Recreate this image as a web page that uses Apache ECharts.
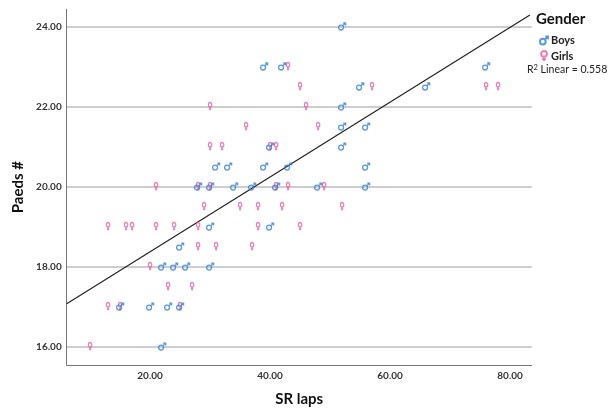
<!DOCTYPE html>
<html>
<head>
<meta charset="utf-8">
<title>Paeds # by SR laps</title>
<script src="https://cdn.jsdelivr.net/npm/echarts@6/dist/echarts.min.js"></script>
<style>
    html, body { margin: 0; padding: 0; background: #fff; }
    #chart { width: 611px; height: 412px; }
</style>
</head>
<body>
<div id="chart"></div>
<script>
    // values
    var boysLaps = [52, 39, 42, 76, 55, 66, 52, 52, 56, 52, 40, 31, 33, 39, 43, 56, 28, 30, 34, 37, 41, 48, 56, 30, 40, 25, 22, 24, 26, 30, 15, 20, 23, 25, 22]
    var boysPaeds = [24, 23, 23, 23, 22.5, 22.5, 22, 21.5, 21.5, 21, 21, 20.5, 20.5, 20.5, 20.5, 20.5, 20, 20, 20, 20, 20, 20, 20, 19, 19, 18.5, 18, 18, 18, 18, 17, 17, 17, 17, 16]
    var girlsLaps = [43, 45, 57, 76, 78, 30, 46, 36, 48, 30, 32, 40, 41, 21, 28, 30, 41, 43, 49, 29, 35, 38, 42, 52, 13, 16, 17, 21, 24, 28, 38, 45, 28, 31, 37, 20, 23, 27, 13, 15, 25, 10]
    var girlsPaeds = [23, 22.5, 22.5, 22.5, 22.5, 22, 22, 21.5, 21.5, 21, 21, 21, 21, 20, 20, 20, 20, 20, 20, 19.5, 19.5, 19.5, 19.5, 19.5, 19, 19, 19, 19, 19, 19, 19, 19, 18.5, 18.5, 18.5, 18, 17.5, 17.5, 17, 17, 17, 16]

    // fit line end points (as drawn in the picture)
    var fitLaps = [6.1, 83.3]
    var fitPaeds = [17.07, 24.29]

    var xTicks = [20, 40, 60, 80]
    var yTicks = [16, 18, 20, 22, 24]

    function zip(a, b) {
        var out = []
        for (var i = 0; i < a.length; i++) out.push([a[i], b[i]])
        return out
    }

    var maleIcon = 'path://M1,7 A3,3 0 1,1 7,7 A3,3 0 1,1 1,7 Z M6.1,4.9 L9.5,1.5 M6.6,1.5 L9.5,1.5 L9.5,4.4'
    var femaleIcon = 'path://M2,4 A3,3 0 1,1 8,4 A3,3 0 1,1 2,4 Z M5,7 L5,11.5 M3,9.5 L7,9.5'

    var blue = '#2f7fd6'
    var pink = '#ea5a9f'
    var font = 'Lato'

    var myChart = echarts.init(document.getElementById('chart'))
    var option = {
        backgroundColor: '#fff',
        animation: false,
        grid: { left: 66.7, right: 79.3, top: 9.3, bottom: 44.3 },
        legend: {
            data: ['Boys', 'Girls'],
            orient: 'vertical',
            left: 534,
            top: 30,
            itemWidth: 8,
            itemHeight: 10,
            itemGap: 4,
            textStyle: { fontFamily: font, fontSize: 11, fontWeight: 'bold', color: '#222', padding: [0, 0, 0, -2] }
        },
        graphic: [
            {
                type: 'text', left: 536, top: 12,
                style: { text: 'Gender', fontFamily: font, fontWeight: 'bold', fontSize: 15, fill: '#111' }
            },
            {
                type: 'text', left: 527, top: 64,
                style: {
                    text: 'R{sup|2} Linear = 0.558',
                    fontFamily: font, fontSize: 10.5, fill: '#222',
                    rich: { sup: { fontSize: 7.5, verticalAlign: 'top', padding: [0, 0, 4, 0], fontFamily: font, fill: '#222' } }
                }
            }
        ],
        xAxis: {
            type: 'value',
            min: 6.1,
            max: 83.6,
            name: 'SR laps',
            nameLocation: 'middle',
            nameGap: 27,
            nameTextStyle: { fontFamily: font, fontWeight: 'bold', fontSize: 15, color: '#111' },
            axisLine: { show: true, lineStyle: { color: '#777', width: 1 } },
            axisTick: { show: false, customValues: xTicks },
            axisLabel: {
                customValues: xTicks, margin: 6,
                fontFamily: font, fontWeight: 'bold', fontSize: 10, color: '#333',
                formatter: function (v) { return v.toFixed(2) }
            },
            splitLine: { show: false }
        },
        yAxis: {
            type: 'value',
            min: 15.54,
            max: 24.43,
            name: 'Paeds #',
            nameLocation: 'middle',
            nameGap: 41,
            nameTextStyle: { fontFamily: font, fontWeight: 'bold', fontSize: 15, color: '#111' },
            axisLine: { show: true, lineStyle: { color: '#777', width: 1 } },
            axisTick: { show: false, customValues: yTicks },
            axisLabel: {
                customValues: yTicks, margin: 5,
                fontFamily: font, fontWeight: 'bold', fontSize: 10, color: '#333',
                formatter: function (v) { return v.toFixed(2) }
            },
            splitLine: { show: true, lineStyle: { color: '#bdbdbd', width: 1.5 } }
        },
        series: [
            {
                name: 'Fit', type: 'line',
                data: zip(fitLaps, fitPaeds),
                showSymbol: false, silent: true,
                lineStyle: { color: '#222', width: 1.2 },
                z: 1
            },
            {
                name: 'Boys', type: 'scatter',
                data: zip(boysLaps, boysPaeds),
                symbol: maleIcon, symbolSize: [7, 7], symbolKeepAspect: true,
                itemStyle: { color: 'rgba(255,255,255,0)', borderColor: blue, borderWidth: 1.3 },
                z: 3
            },
            {
                name: 'Girls', type: 'scatter',
                data: zip(girlsLaps, girlsPaeds),
                symbol: femaleIcon, symbolSize: [6, 8], symbolKeepAspect: true,
                itemStyle: { color: 'rgba(255,255,255,0)', borderColor: pink, borderWidth: 1.3 },
                z: 2
            }
        ]
    }
    myChart.setOption(option)
</script>
</body>
</html>
